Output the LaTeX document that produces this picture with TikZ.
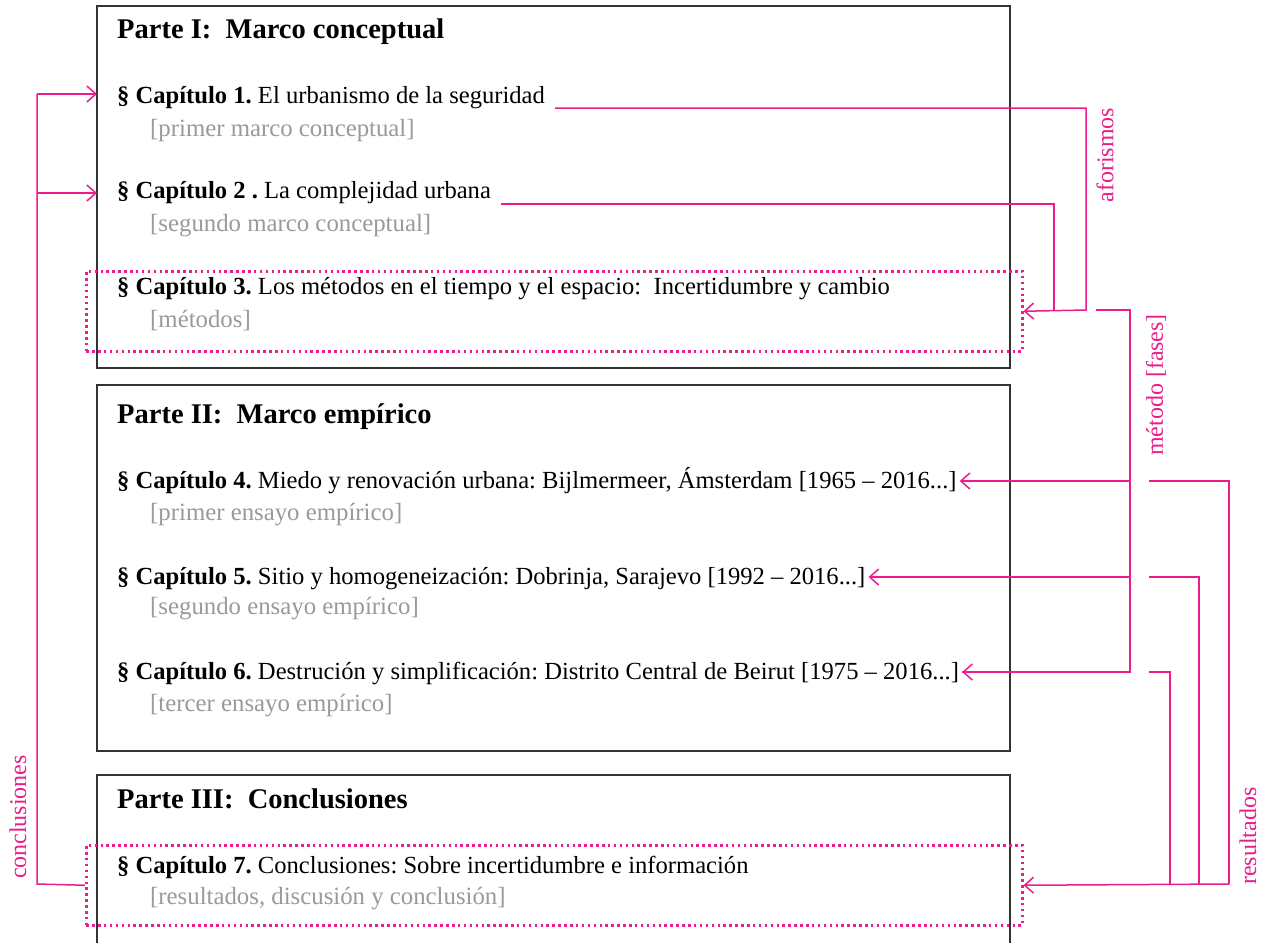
\documentclass[tikz,border=0pt]{standalone}
\usepackage{fontspec}
\setmainfont{Liberation Serif}
\usetikzlibrary{arrows.meta,calc}
\definecolor{mag}{HTML}{EC1C8C}
\definecolor{boxgray}{HTML}{333333}
\definecolor{subgray}{HTML}{9A9A9A}
\frenchspacing
\begin{document}
\begin{tikzpicture}[x=1pt,y=-1pt,
  box/.style={draw=boxgray, line width=1.5pt},
  parttitle/.style={anchor=base west, inner sep=0pt, font=\fontsize{28.5}{32}\selectfont\bfseries},
  chap/.style={anchor=base west, inner sep=0pt, font=\fontsize{24.6}{28}\selectfont},
  subt/.style={anchor=base west, inner sep=0pt, font=\fontsize{24.8}{28}\selectfont, text=subgray},
  link/.style={draw=mag, line width=1.5pt},
  arr/.style={link, -{Straight Barb[length=9pt,width=16pt,line width=1.5pt]}},
  dotbox/.style={draw=mag, line width=2.5pt, dash pattern=on 2.5pt off 3.4pt, inner sep=0pt, anchor=north west},
  lab/.style={text=mag, rotate=90, font=\fontsize{24}{28}\selectfont, inner sep=0pt}
]
\useasboundingbox (0,0) rectangle (1264,943);
\fill[white] (0,0) rectangle (1264,943);

% boxes
\draw[box] (97,6) rectangle (1010,368);
\draw[box] (97,385) rectangle (1010,751);
\draw[box] (97,943) -- (97,775) -- (1010,775) -- (1010,943);

% dotted highlight boxes
\node[dotbox, minimum width=936pt, minimum height=80pt] (d3) at (85,270) {};
\node[dotbox, minimum width=936pt, minimum height=80pt] (d7) at (85,844) {};

% Parte I
\node[parttitle] (p1) at (117,38) {Parte I:\ \ Marco conceptual};
\node[chap] (c1) at (117,103) {\textbf{§ Capítulo 1.} El urbanismo de la seguridad};
\node[subt] (s1) at (150,136) {[primer marco conceptual]};
\node[chap] (c2) at (117,198) {\textbf{§ Capítulo 2 .} La complejidad urbana};
\node[subt] (s2) at (150,231) {[segundo marco conceptual]};
\node[chap] (c3) at (117,294) {\textbf{§ Capítulo 3.} Los métodos en el tiempo y el espacio:\ \ Incertidumbre y cambio};
\node[subt] (s3) at (150,327) {[métodos]};

% Parte II
\node[parttitle] (p2) at (117,423) {Parte II:\ \ Marco empírico};
\node[chap] (c4) at (117,488) {\textbf{§ Capítulo 4.} Miedo y renovación urbana: Bijlmermeer, Ámsterdam [1965 – 2016...]};
\node[subt] (s4) at (150,520) {[primer ensayo empírico]};
\node[chap] (c5) at (117,584) {\textbf{§ Capítulo 5.} Sitio y homogeneización: Dobrinja, Sarajevo [1992 – 2016...]};
\node[subt] (s5) at (150,614) {[segundo ensayo empírico]};
\node[chap] (c6) at (117,679) {\textbf{§ Capítulo 6.} Destrución y simplificación: Distrito Central de Beirut [1975 – 2016...]};
\node[subt] (s6) at (150,711) {[tercer ensayo empírico]};

% Parte III
\node[parttitle] (p3) at (117,808) {Parte III:\ \ Conclusiones};
\node[chap] (c7) at (117,873) {\textbf{§ Capítulo 7.} Conclusiones: Sobre incertidumbre e información};
\node[subt] (s7) at (150,904) {[resultados, discusión y conclusión]};

% labels
\node[lab] (laf) at (1105,155) {aforismos};
\node[lab] (lmf) at (1156,385) {método [fases]};
\node[lab] (lres) at (1248,836) {resultados};
\node[lab] (lcon) at (18,817) {conclusiones};

% aforismos
\coordinate (o1) at ($(c1.base east)+(10,5)$);
\coordinate (o2) at ($(c2.base east)+(10,6)$);
\coordinate (af1) at (1086,310);
\coordinate (af2) at (1054,310);
\draw[arr] (o1) -| (af1) -- (d3.east);
\draw[link] (o2) -| (af2);

% metodo [fases]
\coordinate (m0) at (1096,310);
\coordinate (mv) at (1130,310);
\draw[link] (m0) -- (mv) |- ($(c6.base east)+(3,-7)$);
\draw[arr] (mv |- c4.base) ++(0,-7) -- ($(c4.base east)+(3,-7)$);
\draw[arr] (mv |- c5.base) ++(0,-7) -- ($(c5.base east)+(3,-7)$);
\draw[arr] (mv |- c6.base) ++(0,-7) -- ($(c6.base east)+(3,-7)$);

% resultados
\coordinate (r4) at (1149,481);
\coordinate (r5) at (1149,577);
\coordinate (r6) at (1149,672);
\coordinate (rb) at (1229,884);
\draw[link] (r4) -| (rb);
\draw[link] (r5) -| (1199,884);
\draw[link] (r6) -| (1170,884);
\draw[arr] (rb) -- (d7.east);

% conclusiones
\coordinate (cl) at (37,884);
\draw[link] (d7.west) -- (cl) -- (37,94);
\draw[arr] (37,94) -- (97,94);
\draw[arr] (37,193) -- (97,193);
\end{tikzpicture}
\end{document}
